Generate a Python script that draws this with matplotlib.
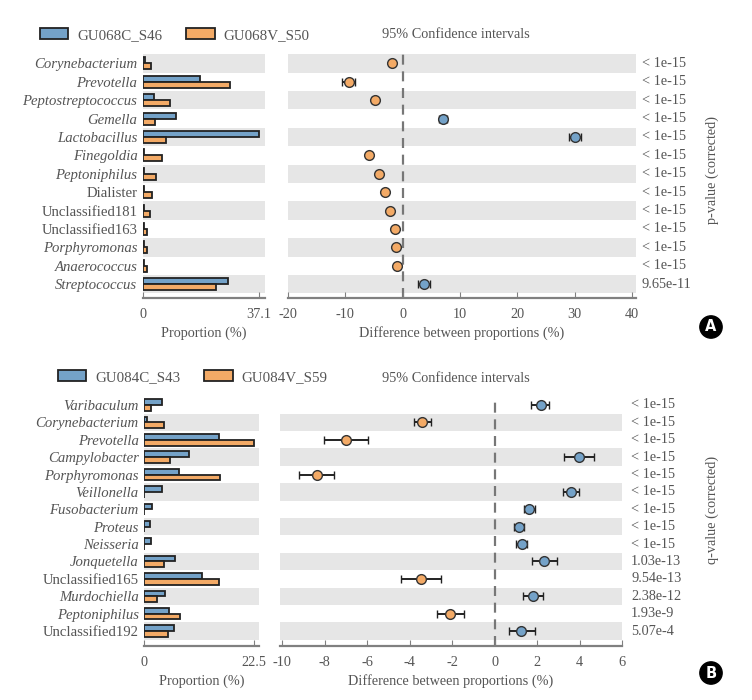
import matplotlib
matplotlib.use("Agg")
import matplotlib.pyplot as plt
from matplotlib.patches import Patch
from matplotlib.transforms import blended_transform_factory

plt.rcParams['font.family'] = ['Liberation Serif', 'DejaVu Serif']

# ---- Panel A data ----
genera_a = ["Corynebacterium", "Prevotella", "Peptostreptococcus", "Gemella", "Lactobacillus",
            "Finegoldia", "Peptoniphilus", "Dialister", "Unclassified181", "Unclassified163",
            "Porphyromonas", "Anaerococcus", "Streptococcus"]
italic_a = [True, True, True, True, True, True, True, False, False, False, True, True, True]
c_prop_a = [0.5, 18.3, 3.4, 10.6, 37.1, 0.2, 0.2, 0.3, 0.3, 0.2, 0.2, 0.2, 27.3]
v_prop_a = [2.6, 27.7, 8.5, 3.8, 7.3, 6.2, 4.3, 3.0, 2.3, 1.3, 1.2, 1.2, 23.3]
diff_a = [-1.9, -9.4, -4.9, 7.05, 30.1, -5.9, -4.1, -3.0, -2.15, -1.4, -1.15, -1.05, 3.7]
lo_a = [-2.2, -10.5, -5.4, 6.4, 29.0, -6.3, -4.5, -3.3, -2.45, -1.6, -1.35, -1.25, 2.6]
hi_a = [-1.6, -8.3, -4.4, 7.7, 31.1, -5.5, -3.7, -2.7, -1.85, -1.2, -0.95, -0.85, 4.8]
pval_a = ["< 1e-15"] * 12 + ["9.65e-11"]

# ---- Panel B data ----
genera_b = ["Varibaculum", "Corynebacterium", "Prevotella", "Campylobacter", "Porphyromonas",
            "Veillonella", "Fusobacterium", "Proteus", "Neisseria", "Jonquetella",
            "Unclassified165", "Murdochiella", "Peptoniphilus", "Unclassified192"]
italic_b = [True, True, True, True, True, True, True, True, True, True, False, True, True, False]
c_prop_b = [3.6, 0.55, 15.4, 9.2, 7.1, 3.6, 1.65, 1.1, 1.4, 6.3, 11.8, 4.2, 5.1, 6.0]
v_prop_b = [1.3, 4.0, 22.5, 5.3, 15.5, 0.0, 0.0, 0.0, 0.0, 4.1, 15.3, 2.5, 7.3, 4.8]
diff_b = [2.17, -3.4, -7.0, 3.98, -8.38, 3.58, 1.64, 1.13, 1.27, 2.33, -3.47, 1.79, -2.09, 1.26]
lo_b = [1.73, -3.79, -8.03, 3.27, -9.2, 3.22, 1.38, 0.91, 1.0, 1.75, -4.39, 1.32, -2.72, 0.66]
hi_b = [2.58, -2.99, -5.96, 4.66, -7.56, 3.98, 1.9, 1.37, 1.52, 2.92, -2.53, 2.3, -1.45, 1.89]
qval_b = ["< 1e-15"] * 9 + ["1.03e-13", "9.54e-13", "2.38e-12", "1.93e-9", "5.07e-4"]

BLUE = "#74a2c8"
ORANGE = "#f3aa66"
SHADE = "#e6e6e6"
TXT = "#555555"
AXC = "#808080"
FS = 10.3

W, H = 752, 700
fig = plt.figure(figsize=(W / 100, H / 100), dpi=100)


def ax_px(l, t, r, b):
    return fig.add_axes([l / W, 1 - b / H, (r - l) / W, (b - t) / H])


def style_axis(ax):
    for s in ["top", "right", "left"]:
        ax.spines[s].set_visible(False)
    ax.spines["bottom"].set_color(AXC)
    ax.spines["bottom"].set_linewidth(1.6)
    ax.tick_params(axis="x", direction="in", length=4, color=AXC, labelcolor=TXT,
                   labelsize=FS, pad=7)
    ax.tick_params(axis="y", length=0)
    ax.set_facecolor("none")


def panel(top, bottom, bar_lr, bar_xlim, bar_ticks, bar_ticklabels,
          ci_lr, ci_xlim, ci_ticks, genera, italic, cprop, vprop,
          diff, lo, hi, pvals, pcol_x, plabel, plabel_y, legend_names,
          legend_x, legend_y, title_y, letter, letter_xy, ylim_bottom):
    n = len(genera)
    rows = list(range(n))
    shaded = [i for i in rows if (n - 1 - i) % 2 == 0]

    # proportion bars
    axb = ax_px(bar_lr[0], top, bar_lr[1], bottom)
    for i in shaded:
        axb.axhspan(i - 0.5, i + 0.5, color=SHADE, zorder=0, lw=0)
    h = 0.33
    axb.barh([r - h / 2 for r in rows], cprop, height=h, color=BLUE,
             edgecolor="#222222", linewidth=1.3, zorder=2)
    axb.barh([r + h / 2 for r in rows], vprop, height=h, color=ORANGE,
             edgecolor="#222222", linewidth=1.3, zorder=2)
    axb.set_xlim(*bar_xlim)
    axb.set_ylim(ylim_bottom, -0.5)
    axb.set_yticks(rows)
    axb.set_yticklabels(genera, fontsize=FS + 0.3, color=TXT)
    for lab, it in zip(axb.get_yticklabels(), italic):
        lab.set_style("italic" if it else "normal")
    axb.tick_params(axis="y", pad=4)
    axb.set_xticks(bar_ticks)
    axb.set_xticklabels(bar_ticklabels)
    style_axis(axb)
    axb.set_xlabel("Proportion (%)", fontsize=FS, color=TXT, labelpad=4)

    # confidence intervals
    axc = ax_px(ci_lr[0], top, ci_lr[1], bottom)
    for i in shaded:
        axc.axhspan(i - 0.5, i + 0.5, color=SHADE, zorder=0, lw=0)
    axc.axvline(0, color="#777777", lw=1.6, ls=(0, (4.5, 3)), zorder=1)
    for i in rows:
        col = BLUE if diff[i] > 0 else ORANGE
        axc.errorbar(diff[i], i, xerr=[[diff[i] - lo[i]], [hi[i] - diff[i]]],
                     fmt="o", color="#222222", mfc=col, mec="#333333", ms=7,
                     mew=1.0, elinewidth=1.4, capsize=3, capthick=1.4, zorder=3)
    axc.set_xlim(*ci_xlim)
    axc.set_ylim(ylim_bottom, -0.5)
    axc.set_yticks([])
    axc.set_xticks(ci_ticks)
    axc.set_xticklabels([f"{t:g}" for t in ci_ticks])
    style_axis(axc)
    axc.set_xlabel("Difference between proportions (%)", fontsize=FS, color=TXT, labelpad=4)

    tr = blended_transform_factory(fig.transFigure, axc.transData)
    for i, s in enumerate(pvals):
        axc.text(pcol_x / W, i, s, transform=tr, fontsize=FS, color=TXT,
                 va="center", ha="left")
    fig.text(712 / W, 1 - plabel_y / H, plabel, rotation=90, fontsize=FS,
             color=TXT, ha="center", va="center")

    fig.text(456 / W, 1 - title_y / H, "95% Confidence intervals", fontsize=FS,
             color=TXT, ha="center", va="center")

    handles = [Patch(facecolor=BLUE, edgecolor="#222222", lw=1.3),
               Patch(facecolor=ORANGE, edgecolor="#222222", lw=1.3)]
    fig.legend(handles, legend_names, loc="center left",
               bbox_to_anchor=(legend_x / W, 1 - legend_y / H), ncol=2,
               frameon=False, fontsize=10.8, labelcolor=TXT, handlelength=1.9,
               handleheight=0.75, columnspacing=1.6, handletextpad=0.6)

    fig.text(letter_xy[0] / W, 1 - letter_xy[1] / H, letter, fontsize=10.5,
             color="white", fontweight="bold", ha="center", va="center",
             family="DejaVu Sans",
             bbox=dict(boxstyle="circle,pad=0.25", fc="black", ec="black"))


panel(top=54.2, bottom=298, bar_lr=(143, 265), bar_xlim=(0, 39.0),
      bar_ticks=[0, 37.1], bar_ticklabels=["0", "37.1"],
      ci_lr=(288, 636), ci_xlim=(-20, 40.7), ci_ticks=[-20, -10, 0, 10, 20, 30, 40],
      genera=genera_a, italic=italic_a, cprop=c_prop_a, vprop=v_prop_a,
      diff=diff_a, lo=lo_a, hi=hi_a, pvals=pval_a, pcol_x=642,
      plabel="p-value (corrected)", plabel_y=170,
      legend_names=["GU068C_S46", "GU068V_S50"], legend_x=26, legend_y=35,
      title_y=34, letter="A", letter_xy=(711, 327), ylim_bottom=12.75)

panel(top=396.3, bottom=646, bar_lr=(144.3, 259), bar_xlim=(0, 23.5),
      bar_ticks=[0, 22.5], bar_ticklabels=["0", "22.5"],
      ci_lr=(280, 622), ci_xlim=(-10.1, 6.0), ci_ticks=[-10, -8, -6, -4, -2, 0, 2, 4, 6],
      genera=genera_b, italic=italic_b, cprop=c_prop_b, vprop=v_prop_b,
      diff=diff_b, lo=lo_b, hi=hi_b, pvals=qval_b, pcol_x=631,
      plabel="q-value (corrected)", plabel_y=510,
      legend_names=["GU084C_S43", "GU084V_S59"], legend_x=44, legend_y=377,
      title_y=378, letter="B", letter_xy=(711, 673), ylim_bottom=13.86)

fig.savefig("out.png", dpi=100, facecolor="white")
